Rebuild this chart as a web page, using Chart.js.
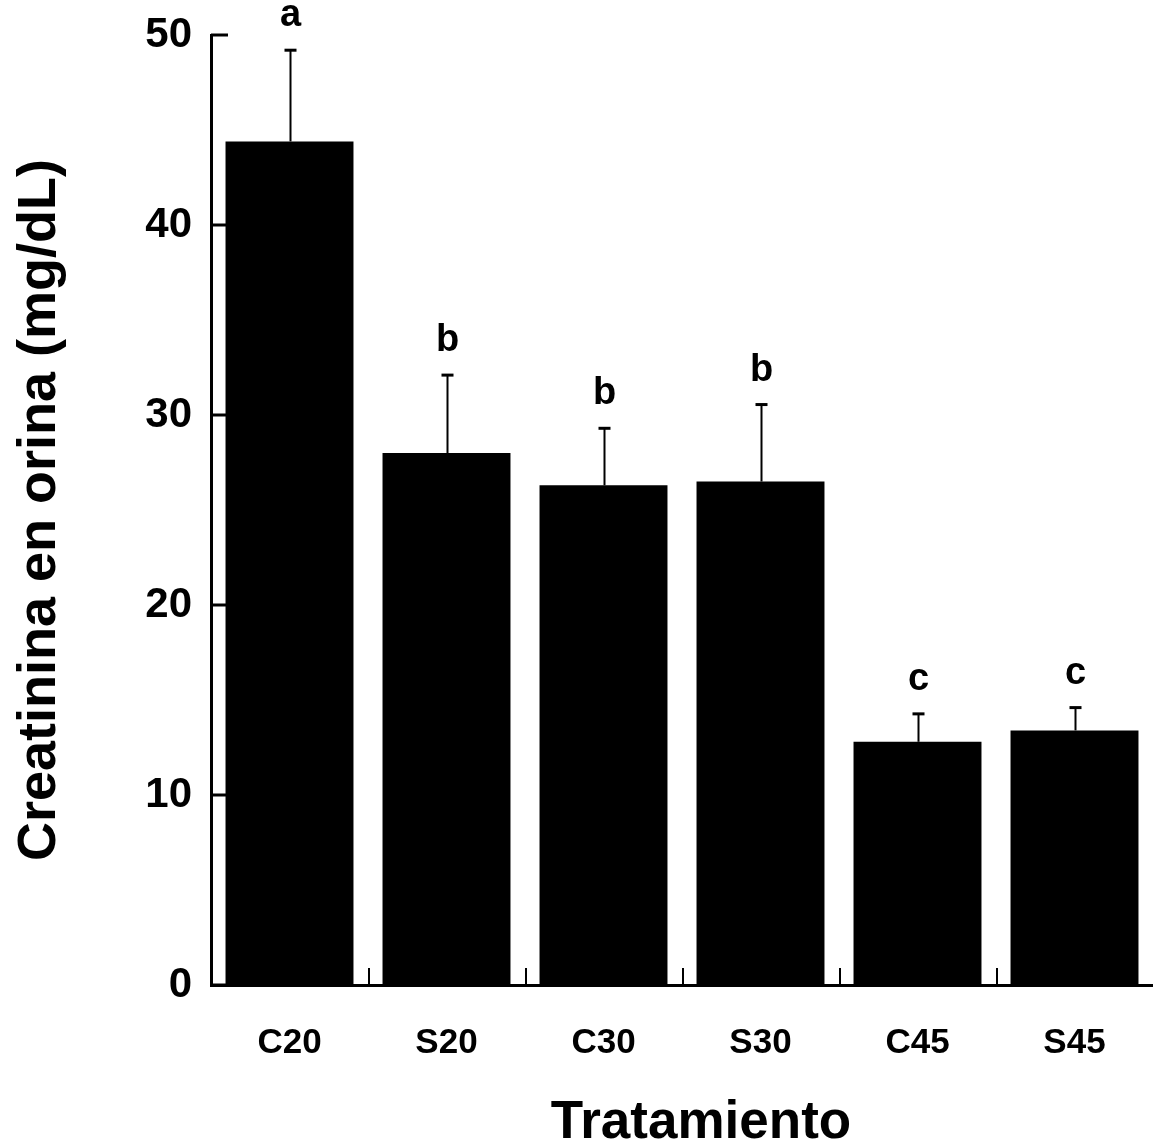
<!DOCTYPE html>
<html>
<head>
<meta charset="utf-8">
<script src="https://cdn.jsdelivr.net/npm/chart.js@4.4.1/dist/chart.umd.min.js"></script>
<style>
  html, body { margin: 0; padding: 0; background: #ffffff; }
  #wrap { width: 1153px; height: 1148px; }
</style>
</head>
<body>
<div id="wrap"><canvas id="chart" width="1153" height="1148"></canvas></div>
<script>
// Treatments and urinary creatinine (mean and standard deviation, mg/dL)
const treatments = ['C20', 'S20', 'C30', 'S30', 'C45', 'S45'];
const creatinineMean = [44.4, 28.0, 26.3, 26.5, 12.8, 13.4];
const creatinineSD = [4.8, 4.1, 3.0, 4.05, 1.47, 1.2];
const groupLetters = ['a', 'b', 'b', 'b', 'c', 'c'];
const yTickValues = [0, 10, 20, 30, 40, 50];

const FONT = '"Liberation Sans", Arial, Helvetica, sans-serif';

// Inward tick marks on both axes
const innerTicks = {
  id: 'innerTicks',
  beforeDatasetsDraw(chart) {
    const { ctx, chartArea, scales: { x, y } } = chart;
    ctx.save();
    ctx.strokeStyle = '#000';
    ctx.lineWidth = 3;
    yTickValues.forEach(v => {
      const py = y.getPixelForValue(v);
      ctx.beginPath();
      ctx.moveTo(chartArea.left, py);
      ctx.lineTo(chartArea.left + 17, py);
      ctx.stroke();
    });
    ctx.lineWidth = 2;
    for (let i = 1; i < treatments.length; i++) {
      const px = (x.getPixelForValue(i - 1) + x.getPixelForValue(i)) / 2 + 1;
      ctx.beginPath();
      ctx.moveTo(px, chartArea.bottom);
      ctx.lineTo(px, chartArea.bottom - 17);
      ctx.stroke();
    }
    ctx.restore();
  }
};

// Upper error bars with caps and significance letters
const errorBars = {
  id: 'errorBars',
  afterDatasetsDraw(chart) {
    const { ctx, scales: { x, y } } = chart;
    ctx.save();
    ctx.strokeStyle = '#000';
    ctx.fillStyle = '#000';
    creatinineMean.forEach((m, i) => {
      const px = x.getPixelForValue(i) + 1;
      const pTop = y.getPixelForValue(m);
      const pErr = y.getPixelForValue(m + creatinineSD[i]);
      ctx.lineWidth = 2;
      ctx.beginPath();
      ctx.moveTo(px, pTop);
      ctx.lineTo(px, pErr);
      ctx.stroke();
      ctx.lineWidth = 3;
      ctx.beginPath();
      ctx.moveTo(px - 6, pErr);
      ctx.lineTo(px + 6, pErr);
      ctx.stroke();
      ctx.font = 'bold 38px ' + FONT;
      ctx.textAlign = 'center';
      ctx.textBaseline = 'alphabetic';
      ctx.fillText(groupLetters[i], px, pErr - 24);
    });
    ctx.restore();
  }
};

// Horizontal axis title
const xTitle = {
  id: 'xTitle',
  afterDraw(chart) {
    const { ctx, chartArea } = chart;
    ctx.save();
    ctx.fillStyle = '#000';
    ctx.font = 'bold 53px ' + FONT;
    ctx.textAlign = 'center';
    ctx.textBaseline = 'alphabetic';
    ctx.fillText('Tratamiento', (chartArea.left + chartArea.right) / 2 + 19, 1138);
    ctx.restore();
  }
};

new Chart(document.getElementById('chart'), {
  type: 'bar',
  data: {
    labels: treatments,
    datasets: [{
      data: creatinineMean,
      backgroundColor: '#000000',
      borderWidth: 0,
      categoryPercentage: 1.0,
      barPercentage: 0.815
    }]
  },
  options: {
    responsive: false,
    animation: false,
    devicePixelRatio: 1,
    layout: { padding: { top: 35, right: 0, bottom: 0, left: 0 } },
    plugins: {
      legend: { display: false },
      tooltip: { enabled: false },
      title: { display: false }
    },
    scales: {
      x: {
        grid: { display: false, drawTicks: false },
        border: { display: true, color: '#000', width: 3 },
        ticks: {
          color: '#000',
          font: { family: FONT, size: 35, weight: 'bold' },
          padding: 37,
          maxRotation: 0
        },
        afterFit(scale) { scale.height = 163; scale.paddingLeft = 0; scale.paddingRight = 0; }
      },
      y: {
        min: 0,
        max: 50,
        grid: { display: false, drawTicks: false },
        border: { display: true, color: '#000', width: 3 },
        ticks: {
          stepSize: 10,
          color: '#000',
          font: { family: FONT, size: 42, weight: 'bold' },
          padding: 19
        },
        title: {
          display: true,
          text: 'Creatinina en orina (mg/dL)',
          color: '#000',
          font: { family: FONT, size: 54, weight: 'bold' },
          padding: { top: 8, bottom: 0 }
        },
        afterFit(scale) { scale.width = 211; scale.paddingTop = 0; scale.paddingBottom = 0; }
      }
    }
  },
  plugins: [innerTicks, errorBars, xTitle]
});
</script>
</body>
</html>
